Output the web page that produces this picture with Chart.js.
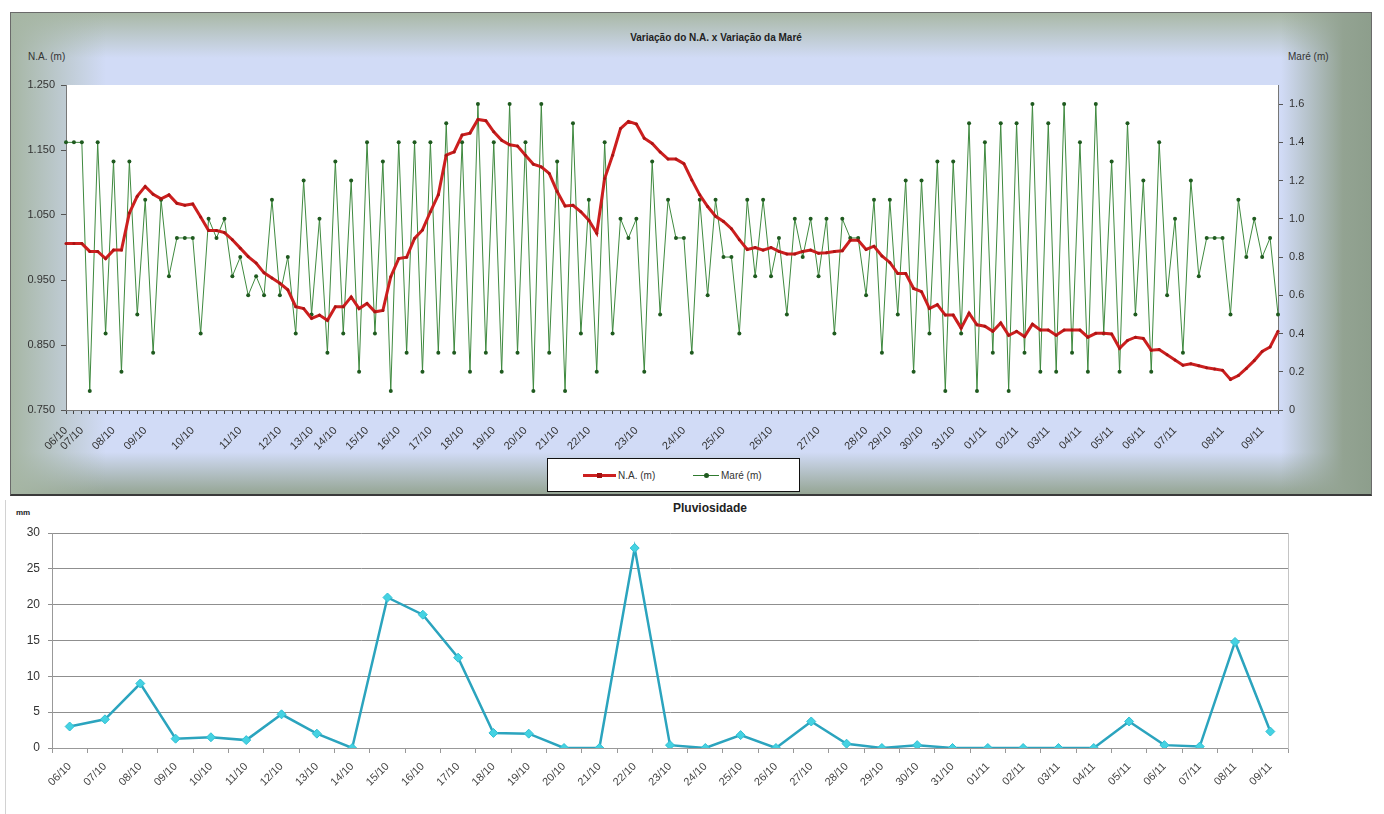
<!DOCTYPE html>
<html>
<head>
<meta charset="utf-8">
<script src="https://cdn.jsdelivr.net/npm/chart.js@4.4.1/dist/chart.umd.min.js"></script>
<style>
  html, body { margin: 0; padding: 0; background: #fff; }
  body { width: 1384px; height: 814px; position: relative; overflow: hidden;
         font-family: 'Liberation Sans', Arial, sans-serif; color: #333; }
  .abs { position: absolute; }
  #moldura { left: 10px; top: 12px; width: 1360px; height: 481px;
    border: 1px solid #6a6a6a; border-bottom: 2px solid #3a3a3a;
    background:
      linear-gradient(to right, #a6b6a4 0px, rgba(166,182,164,0) 95px),
      linear-gradient(to left, #8d9e8c 0px, #93a392 28px, rgba(147,163,146,0) 90px),
      linear-gradient(to bottom, #a9b8a6 0px, rgba(169,184,166,0) 45px),
      linear-gradient(to top, #95a594 0px, rgba(149,165,148,0) 42px),
      #d1dbf6; }
  #tituloTopo { left: 516px; top: 32px; width: 400px; text-align: center; font-weight: bold; font-size: 10px; color: #222; }
  .unidade { top: 51px; font-size: 10px; color: #333; }
  #legenda { left: 547px; top: 458px; width: 251px; height: 32px; border: 1px solid #111; background: #fff; }
  .leg-linha { position: absolute; }
  .leg-txt { position: absolute; top: 11px; font-size: 10px; color: #333; }
  #tituloBaixo { left: 610px; top: 501px; width: 200px; text-align: center; font-weight: bold; font-size: 12px; color: #222;
    font-family: 'Liberation Sans Narrow', 'Liberation Sans', Arial, sans-serif; }
  #mm { left: 16px; top: 508px; font-size: 8px; font-weight: bold; color: #222; }
  #bordaBaixo { left: 5px; top: 500px; height: 314px; border-left: 1px solid #d2d2d2; }
</style>
</head>
<body>
<div id="moldura" class="abs"></div>
<div id="tituloTopo" class="abs">Variação do N.A. x Variação da Maré</div>
<div class="abs unidade" style="left:28px">N.A. (m)</div>
<div class="abs unidade" style="left:1288px">Maré (m)</div>
<canvas id="graficoTopo" class="abs" width="1384" height="497" style="left:0;top:0"></canvas>
<div id="legenda" class="abs">
  <div class="leg-linha" style="left:35px;top:15px;width:33px;height:3px;background:#cc1f1f"></div>
  <div class="leg-linha" style="left:49px;top:14px;width:5px;height:5px;background:#a01010"></div>
  <div class="leg-txt" style="left:70px">N.A. (m)</div>
  <div class="leg-linha" style="left:145px;top:16px;width:26px;height:1px;background:#2f7a2f"></div>
  <div class="leg-linha" style="left:156px;top:14px;width:5px;height:5px;border-radius:50%;background:#1f5a1f"></div>
  <div class="leg-txt" style="left:173px">Maré (m)</div>
</div>
<div id="bordaBaixo" class="abs"></div>
<div id="tituloBaixo" class="abs">Pluviosidade</div>
<div id="mm" class="abs">mm</div>
<canvas id="graficoBaixo" class="abs" width="1384" height="317" style="left:0;top:497px"></canvas>

<script>
// dias do periodo
var dias = ['06/10', '07/10', '08/10', '09/10', '10/10', '11/10', '12/10', '13/10', '14/10', '15/10',
  '16/10', '17/10', '18/10', '19/10', '20/10', '21/10', '22/10', '23/10', '24/10', '25/10',
  '26/10', '27/10', '28/10', '29/10', '30/10', '31/10', '01/11', '02/11', '03/11', '04/11',
  '05/11', '06/11', '07/11', '08/11', '09/11'];

// leitura em que cada dia comeca (grafico de cima)
var inicioDia = [0, 2, 6, 10, 16, 22, 27, 31, 34, 38, 42, 46, 50, 54, 58, 62, 66, 72, 78, 83,
  89, 95, 101, 104, 108, 112, 116, 120, 124, 128, 132, 136, 140, 146, 151];

// N.A. (m)
var nivelAgua = [
  1.006, 1.006, 1.006, 0.994, 0.994, 0.983, 0.996, 0.996, 1.053, 1.079,
  1.094, 1.082, 1.075, 1.081, 1.068, 1.065, 1.067, 1.047, 1.026, 1.026,
  1.023, 1.012, 0.999, 0.986, 0.976, 0.961, 0.953, 0.945, 0.935, 0.909,
  0.906, 0.891, 0.896, 0.888, 0.909, 0.909, 0.924, 0.906, 0.914, 0.901,
  0.903, 0.955, 0.983, 0.985, 1.014, 1.027, 1.055, 1.081, 1.142, 1.147,
  1.173, 1.176, 1.197, 1.195, 1.178, 1.165, 1.158, 1.156, 1.142, 1.128,
  1.124, 1.114, 1.086, 1.064, 1.065, 1.055, 1.042, 1.022, 1.106, 1.142,
  1.183, 1.194, 1.190, 1.168, 1.160, 1.147, 1.136, 1.136, 1.129, 1.104,
  1.081, 1.063, 1.048, 1.040, 1.029, 1.012, 0.997, 1.000, 0.996, 1.000,
  0.994, 0.990, 0.990, 0.994, 0.996, 0.991, 0.992, 0.994, 0.995, 1.011,
  1.011, 0.997, 1.002, 0.987, 0.977, 0.960, 0.960, 0.937, 0.932, 0.906,
  0.912, 0.896, 0.896, 0.876, 0.899, 0.881, 0.879, 0.871, 0.884, 0.865,
  0.871, 0.863, 0.882, 0.873, 0.873, 0.865, 0.873, 0.873, 0.873, 0.862,
  0.868, 0.868, 0.867, 0.845, 0.857, 0.862, 0.860, 0.842, 0.843, 0.835,
  0.827, 0.819, 0.821, 0.818, 0.815, 0.813, 0.811, 0.797, 0.803, 0.814,
  0.826, 0.840, 0.847, 0.871];

// Maré (m)
var mare = [
  1.4, 1.4, 1.4, 0.1, 1.4, 0.4, 1.3, 0.2, 1.3, 0.5,
  1.1, 0.3, 1.1, 0.7, 0.9, 0.9, 0.9, 0.4, 1.0, 0.9,
  1.0, 0.7, 0.8, 0.6, 0.7, 0.6, 1.1, 0.6, 0.8, 0.4,
  1.2, 0.5, 1.0, 0.3, 1.3, 0.4, 1.2, 0.2, 1.4, 0.4,
  1.3, 0.1, 1.4, 0.3, 1.4, 0.2, 1.4, 0.3, 1.5, 0.3,
  1.4, 0.2, 1.6, 0.3, 1.4, 0.2, 1.6, 0.3, 1.4, 0.1,
  1.6, 0.3, 1.3, 0.1, 1.5, 0.4, 1.1, 0.2, 1.4, 0.4,
  1.0, 0.9, 1.0, 0.2, 1.3, 0.5, 1.1, 0.9, 0.9, 0.3,
  1.1, 0.6, 1.1, 0.8, 0.8, 0.4, 1.1, 0.7, 1.1, 0.7,
  0.9, 0.5, 1.0, 0.8, 1.0, 0.7, 1.0, 0.4, 1.0, 0.9,
  0.9, 0.6, 1.1, 0.3, 1.1, 0.5, 1.2, 0.2, 1.2, 0.4,
  1.3, 0.1, 1.3, 0.4, 1.5, 0.1, 1.4, 0.3, 1.5, 0.1,
  1.5, 0.3, 1.6, 0.2, 1.5, 0.2, 1.6, 0.3, 1.4, 0.2,
  1.6, 0.4, 1.3, 0.2, 1.5, 0.5, 1.2, 0.2, 1.4, 0.6,
  1.0, 0.3, 1.2, 0.7, 0.9, 0.9, 0.9, 0.5, 1.1, 0.8,
  1.0, 0.8, 0.9, 0.5];

// Pluviosidade (mm) por dia
var chuva = [3.0, 4.0, 9.0, 1.3, 1.5, 1.1, 4.7, 2.0, 0, 21.0,
  18.6, 12.6, 2.1, 2.0, 0, 0, 27.9, 0.4, 0, 1.8,
  0, 3.7, 0.6, 0, 0.4, 0, 0, 0, 0, 0,
  3.7, 0.4, 0.2, 14.8, 2.3];

Chart.defaults.font.family = "'Liberation Sans', Arial, sans-serif";
Chart.defaults.color = '#333';

var fundoBranco = {
  id: 'fundoBranco',
  beforeDraw: function (chart) {
    var a = chart.chartArea;
    var ctx = chart.ctx;
    ctx.save();
    ctx.fillStyle = '#ffffff';
    ctx.fillRect(a.left, a.top, a.right - a.left, a.bottom - a.top);
    ctx.restore();
  }
};

// rotulos do eixo x: so a primeira leitura de cada dia
var rotulosTopo = mare.map(function () { return ''; });
inicioDia.forEach(function (idx, i) { rotulosTopo[idx] = dias[i]; });

new Chart(document.getElementById('graficoTopo'), {
  type: 'line',
  data: {
    labels: rotulosTopo,
    datasets: [{
      label: 'N.A. (m)',
      data: nivelAgua,
      yAxisID: 'y',
      borderColor: '#cc1f1f',
      backgroundColor: '#a81414',
      borderWidth: 3,
      pointRadius: 1.5,
      pointBorderWidth: 0,
      tension: 0
    }, {
      label: 'Maré (m)',
      data: mare,
      yAxisID: 'y2',
      borderColor: '#3f8a3f',
      backgroundColor: '#1f5a1f',
      borderWidth: 1,
      pointRadius: 2,
      pointBorderWidth: 0,
      tension: 0
    }]
  },
  options: {
    responsive: false,
    animation: false,
    layout: { padding: { top: 85, left: 0, right: 0, bottom: 0 } },
    plugins: { legend: { display: false }, title: { display: false }, tooltip: { enabled: false } },
    scales: {
      x: {
        offset: false,
        grid: { display: true, drawOnChartArea: false, tickLength: 4, color: '#444' },
        border: { display: true, color: '#777' },
        ticks: { autoSkip: false, minRotation: 45, maxRotation: 45, font: { size: 11 }, color: '#333', padding: 10 },
        afterFit: function (s) { s.height = 87; }
      },
      y: {
        position: 'left',
        min: 0.75,
        max: 1.25,
        ticks: { stepSize: 0.1, font: { size: 11 }, color: '#333', padding: 6,
          callback: function (v) { return Number(v).toFixed(3); } },
        grid: { drawOnChartArea: false, tickLength: 5, color: '#555' },
        border: { color: '#777' },
        afterFit: function (s) { s.width = 66; }
      },
      y2: {
        position: 'right',
        min: 0,
        max: 1.7,
        ticks: { stepSize: 0.2, includeBounds: false, font: { size: 11 }, color: '#333', padding: 6 },
        grid: { drawOnChartArea: false, tickLength: 5, color: '#555' },
        border: { color: '#777' },
        afterFit: function (s) { s.width = 106; }
      }
    }
  },
  plugins: [fundoBranco]
});

new Chart(document.getElementById('graficoBaixo'), {
  type: 'line',
  data: {
    labels: dias,
    datasets: [{
      label: 'Pluviosidade',
      data: chuva,
      borderColor: '#2ba4be',
      borderWidth: 2.5,
      pointStyle: 'rectRot',
      pointRadius: 4.5,
      pointBackgroundColor: '#45d2e2',
      pointBorderColor: '#2fbfd3',
      pointBorderWidth: 1,
      tension: 0
    }]
  },
  options: {
    responsive: false,
    animation: false,
    layout: { padding: { top: 36, left: 0, right: 96, bottom: 0 } },
    plugins: { legend: { display: false }, title: { display: false }, tooltip: { enabled: false } },
    scales: {
      x: {
        offset: true,
        grid: { display: true, offset: true, drawOnChartArea: false, tickLength: 5, color: '#999' },
        border: { color: '#999' },
        ticks: { autoSkip: false, minRotation: 45, maxRotation: 45, font: { size: 11 }, color: '#444', padding: 7 },
        afterFit: function (s) { s.height = 66; }
      },
      y: {
        min: 0,
        max: 30,
        ticks: { stepSize: 5, font: { size: 12 }, color: '#333', padding: 8 },
        grid: { color: '#8f8f8f', tickLength: 4 },
        border: { color: '#999' },
        afterFit: function (s) { s.width = 52; }
      },
      yBorda: {
        display: true,
        position: 'right',
        min: 0,
        max: 30,
        ticks: { display: false },
        grid: { display: false },
        border: { display: true, color: '#c4c4c4' },
        afterFit: function (s) { s.width = 0; }
      }
    }
  }
});
</script>
</body>
</html>
